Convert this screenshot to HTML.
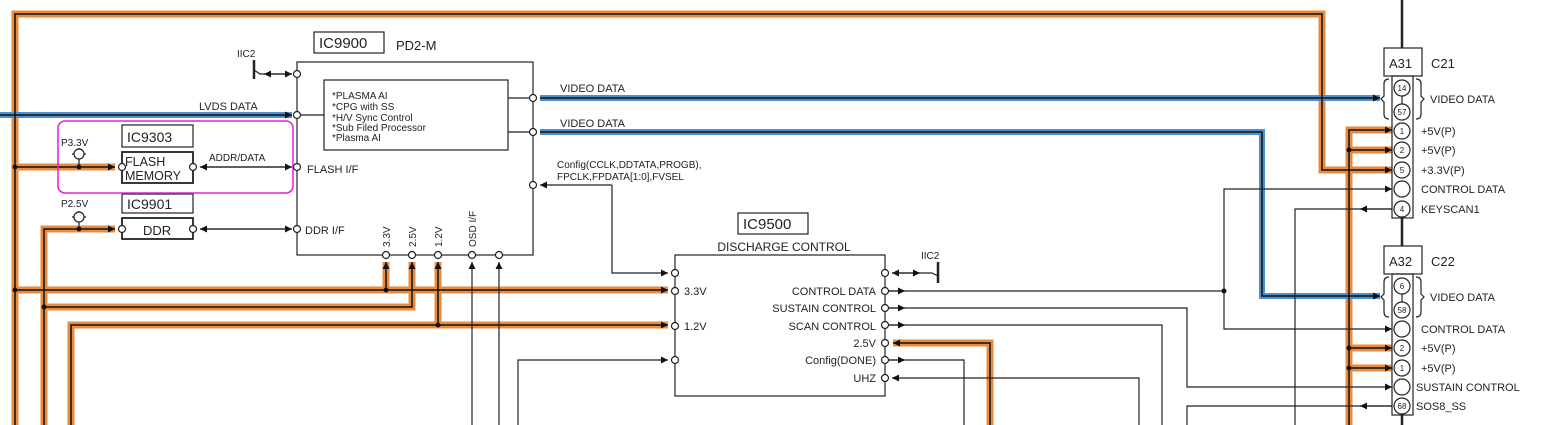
<!DOCTYPE html>
<html><head><meta charset="utf-8"><style>
html,body{margin:0;padding:0;background:#fff;}
svg{display:block;font-family:"Liberation Sans",sans-serif;}
text{fill:#222;}
</style></head><body>
<svg width="1545" height="425" viewBox="0 0 1545 425" xmlns="http://www.w3.org/2000/svg">
<defs>
<marker id="a" viewBox="0 0 10 10" refX="10" refY="5" markerWidth="9" markerHeight="7" orient="auto" markerUnits="userSpaceOnUse"><path d="M0,0 L10,5 L0,10 z" fill="#111"/></marker>
</defs>
<g fill="none" stroke-linejoin="miter" stroke-linecap="butt">
<!-- orange wires: glow -->
<g stroke="#e98b3f" stroke-width="7">
<path d="M15,425 V14 H1322 V170 H1392"/>
<path d="M15,167 H115"/>
<path d="M44,425 V229 H115"/>
<path d="M15,290 H668"/>
<path d="M386,290 V262"/>
<path d="M44,307 H412 V262"/>
<path d="M71,425 V325 H668"/>
<path d="M438,325 V262"/>
<path d="M893,343 H990 V425"/>
<path d="M1349,425 V130 H1392"/>
<path d="M1349,150 H1392"/>
<path d="M1349,348 H1392"/>
<path d="M1349,368 H1392"/>
</g>
<!-- blue glow -->
<g stroke="#4f8fcb" stroke-width="6">
<path d="M0,115 H292"/>
<path d="M540,98 H1380"/>
<path d="M540,132 H1262 V296 H1380"/>
</g>
<!-- core lines -->
<g stroke="#111" stroke-width="1.5">
<path d="M15,425 V14 H1322 V170 H1392" marker-end="url(#a)"/>
<path d="M15,167 H115" marker-end="url(#a)"/>
<path d="M44,425 V229 H115" marker-end="url(#a)"/>
<path d="M15,290 H668" marker-end="url(#a)"/>
<path d="M386,290 V262" marker-end="url(#a)"/>
<path d="M44,307 H412 V262" marker-end="url(#a)"/>
<path d="M71,425 V325 H668" marker-end="url(#a)"/>
<path d="M438,325 V262" marker-end="url(#a)"/>
<path d="M990,425 V343 H893" marker-end="url(#a)"/>
<path d="M1349,425 V130 H1392" marker-end="url(#a)"/>
<path d="M1349,150 H1392" marker-end="url(#a)"/>
<path d="M1349,348 H1392" marker-end="url(#a)"/>
<path d="M1349,368 H1392" marker-end="url(#a)"/>
<path d="M0,115 H292" marker-end="url(#a)"/>
<path d="M540,98 H1380" marker-end="url(#a)"/>
<path d="M540,132 H1262 V296 H1380" marker-end="url(#a)"/>
</g>
<g stroke="#222" stroke-width="1.2">
<!-- IC9900 box -->
<rect x="297" y="62" width="236" height="193"/>
<rect x="324" y="80" width="184" height="70"/>
<path d="M297,115 H324 M508,98 H533 M508,132 H533"/>
<!-- IIC2 top -->
<path d="M254,60 V79" stroke-width="2.5"/>
<path d="M254,70 L260,74 H292" marker-end="url(#a)"/>
<path d="M292,74 H264" marker-end="url(#a)"/>
<!-- flash / ddr -->
<rect x="122" y="125" width="71" height="22"/>
<rect x="122" y="152" width="71" height="31" stroke-width="1.8"/>
<rect x="122" y="194" width="71" height="19"/>
<rect x="122" y="218" width="71" height="21" stroke-width="1.8"/>
<path d="M200,167 H292" marker-end="url(#a)"/><path d="M292,167 H200" marker-end="url(#a)"/>
<path d="M200,229 H292" marker-end="url(#a)"/><path d="M292,229 H200" marker-end="url(#a)"/>
<path d="M79,148 V167 M72,154 H86 M79,211 V229 M72,217 H86"/>
<!-- IC9900 labels box -->
<rect x="314" y="32" width="70" height="21"/>
<!-- OSD lines -->
<path d="M472,425 V262" marker-end="url(#a)"/>
<path d="M499,425 V262" marker-end="url(#a)"/>
<!-- config -->
<path d="M612,185 V273 H668" marker-end="url(#a)"/>
<path d="M612,185 H540" marker-end="url(#a)"/>
<!-- IC9500 -->
<rect x="675" y="255" width="210" height="141"/>
<rect x="738" y="213" width="70" height="21"/>
<path d="M518,425 V360 H668" marker-end="url(#a)"/>
<path d="M938,262 V283" stroke-width="2.5"/>
<path d="M938,276 L932,273 H892" marker-end="url(#a)"/>
<path d="M892,273 H920" marker-end="url(#a)"/>
<path d="M885,291 H1224 V189 H1392" marker-end="url(#a)"/>
<path d="M885,291 H905" marker-end="url(#a)"/>
<path d="M1224,291 V329 H1392" marker-end="url(#a)"/>
<path d="M885,308 H1187 V387 H1392" marker-end="url(#a)"/>
<path d="M885,308 H905" marker-end="url(#a)"/>
<path d="M885,325 H1162 V425"/>
<path d="M885,325 H905" marker-end="url(#a)"/>
<path d="M885,360 H964 V425"/>
<path d="M885,360 H905" marker-end="url(#a)"/>
<path d="M1139,425 V378 H892" marker-end="url(#a)"/>
<path d="M1187,425 V406 H1392"/>
<path d="M1392,406 H1360" marker-end="url(#a)"/>
<path d="M1295,425 V209 H1392"/>
<path d="M1392,209 H1360" marker-end="url(#a)"/>
<!-- connectors -->
<path d="M1402,0 V48 M1402,218 V246 M1402,415 V425" stroke-width="2.5"/>
<rect x="1384" y="48" width="38" height="28"/>
<rect x="1392" y="76" width="21" height="142"/>
<rect x="1384" y="246" width="38" height="28"/>
<rect x="1392" y="274" width="21" height="141"/>
<path d="M1402,96 V104 M1402,294 V302"/>
<path d="M1389,79 Q1384,79 1384,84 V96 L1381,99 L1384,102 V114 Q1384,119 1389,119"/>
<path d="M1416,79 Q1421,79 1421,84 V96 L1424,99 L1421,102 V114 Q1421,119 1416,119"/>
<path d="M1389,277 Q1384,277 1384,282 V294 L1381,297 L1384,300 V312 Q1384,317 1389,317"/>
<path d="M1416,277 Q1421,277 1421,282 V294 L1424,297 L1421,300 V312 Q1421,317 1416,317"/>
</g>
<!-- magenta -->
<rect x="58" y="121" width="235" height="72" rx="7" stroke="#e21ee0" stroke-width="1.5"/>
<!-- pin circles -->
<g fill="#fff" stroke="#222" stroke-width="1.2">
<circle cx="297" cy="74" r="3.5"/><circle cx="297" cy="115" r="3.5"/><circle cx="297" cy="167" r="3.5"/><circle cx="297" cy="229" r="3.5"/>
<circle cx="533" cy="98" r="3.5"/><circle cx="533" cy="132" r="3.5"/><circle cx="533" cy="185" r="3.5"/>
<circle cx="386" cy="255" r="3.5"/><circle cx="412" cy="255" r="3.5"/><circle cx="438" cy="255" r="3.5"/><circle cx="472" cy="255" r="3.5"/><circle cx="499" cy="255" r="3.5"/>
<circle cx="122" cy="167" r="3.5"/><circle cx="193" cy="167" r="3.5"/><circle cx="122" cy="229" r="3.5"/><circle cx="193" cy="229" r="3.5"/>
<circle cx="79" cy="154" r="5"/><circle cx="79" cy="217" r="5"/>
<circle cx="675" cy="273" r="3.5"/><circle cx="675" cy="291" r="3.5"/><circle cx="675" cy="326" r="3.5"/><circle cx="675" cy="360" r="3.5"/>
<circle cx="885" cy="273" r="3.5"/><circle cx="885" cy="291" r="3.5"/><circle cx="885" cy="308" r="3.5"/><circle cx="885" cy="325" r="3.5"/><circle cx="885" cy="343" r="3.5"/><circle cx="885" cy="360" r="3.5"/><circle cx="885" cy="378" r="3.5"/>
<g r="8">
<circle cx="1402" cy="88" r="8"/><circle cx="1402" cy="112" r="8"/><circle cx="1402" cy="131" r="8"/><circle cx="1402" cy="150" r="8"/><circle cx="1402" cy="170" r="8"/><circle cx="1402" cy="189" r="8"/><circle cx="1402" cy="209" r="8"/>
<circle cx="1402" cy="286" r="8"/><circle cx="1402" cy="310" r="8"/><circle cx="1402" cy="329" r="8"/><circle cx="1402" cy="348" r="8"/><circle cx="1402" cy="368" r="8"/><circle cx="1402" cy="387" r="8"/><circle cx="1402" cy="406" r="8"/>
</g>
</g>
<!-- junction dots -->
<g fill="#111">
<circle cx="15" cy="167" r="2.5"/><circle cx="15" cy="290" r="2.5"/><circle cx="44" cy="307" r="2.5"/><circle cx="79" cy="167" r="2.5"/><circle cx="79" cy="229" r="2.5"/>
<circle cx="386" cy="290" r="2.5"/><circle cx="438" cy="325" r="2.5"/><circle cx="1224" cy="291" r="2.5"/>
<circle cx="1349" cy="150" r="2.5"/><circle cx="1349" cy="348" r="2.5"/><circle cx="1349" cy="368" r="2.5"/>
</g>
</g>
<!-- text -->
<g font-size="11">
<text x="319" y="48" font-size="15">IC9900</text>
<text x="396" y="50" font-size="13">PD2-M</text>
<text x="237" y="57" font-size="10">IIC2</text>
<text x="332" y="99" font-size="10">*PLASMA AI</text>
<text x="332" y="110" font-size="10">*CPG with SS</text>
<text x="332" y="121" font-size="10">*H/V Sync Control</text>
<text x="332" y="131" font-size="10">*Sub Filed Processor</text>
<text x="332" y="141" font-size="10">*Plasma AI</text>
<text x="199" y="110">LVDS DATA</text>
<text x="127" y="142" font-size="14">IC9303</text>
<text x="125" y="166" font-size="12.5">FLASH</text>
<text x="125" y="180" font-size="12.5">MEMORY</text>
<text x="61" y="146" font-size="10">P3.3V</text>
<text x="61" y="207" font-size="10">P2.5V</text>
<text x="209" y="161" font-size="10">ADDR/DATA</text>
<text x="307" y="173">FLASH I/F</text>
<text x="127" y="209" font-size="14">IC9901</text>
<text x="143" y="235" font-size="13">DDR</text>
<text x="305" y="234">DDR I/F</text>
<g font-size="10">
<text transform="translate(390,247) rotate(-90)">3.3V</text>
<text transform="translate(416,247) rotate(-90)">2.5V</text>
<text transform="translate(442,247) rotate(-90)">1.2V</text>
<text transform="translate(476,247) rotate(-90)">OSD I/F</text>
</g>
<text x="560" y="92">VIDEO DATA</text>
<text x="560" y="127">VIDEO DATA</text>
<text x="557" y="168" font-size="10">Config(CCLK,DDTATA,PROGB),</text>
<text x="557" y="180" font-size="10">FPCLK,FPDATA[1:0],FVSEL</text>
<text x="743" y="229" font-size="15">IC9500</text>
<text x="784" y="251" font-size="12" text-anchor="middle">DISCHARGE CONTROL</text>
<text x="921" y="259" font-size="10">IIC2</text>
<text x="684" y="295">3.3V</text>
<text x="684" y="330">1.2V</text>
<g text-anchor="end">
<text x="876" y="295">CONTROL DATA</text>
<text x="876" y="312">SUSTAIN CONTROL</text>
<text x="876" y="330">SCAN CONTROL</text>
<text x="876" y="347">2.5V</text>
<text x="876" y="364">Config(DONE)</text>
<text x="876" y="382">UHZ</text>
</g>
<text x="1389" y="68" font-size="13">A31</text>
<text x="1431" y="68" font-size="13">C21</text>
<text x="1389" y="266" font-size="13">A32</text>
<text x="1431" y="266" font-size="13">C22</text>
<g font-size="8" text-anchor="middle">
<text x="1402" y="91">14</text><text x="1402" y="115">57</text><text x="1402" y="134">1</text><text x="1402" y="153">2</text><text x="1402" y="173">5</text><text x="1402" y="212">4</text>
<text x="1402" y="289">6</text><text x="1402" y="313">58</text><text x="1402" y="351">2</text><text x="1402" y="371">1</text><text x="1402" y="409">68</text>
</g>
<text x="1430" y="103">VIDEO DATA</text>
<text x="1421" y="135">+5V(P)</text>
<text x="1421" y="154">+5V(P)</text>
<text x="1421" y="174">+3.3V(P)</text>
<text x="1421" y="193">CONTROL DATA</text>
<text x="1421" y="213">KEYSCAN1</text>
<text x="1430" y="301">VIDEO DATA</text>
<text x="1421" y="333">CONTROL DATA</text>
<text x="1421" y="352">+5V(P)</text>
<text x="1421" y="372">+5V(P)</text>
<text x="1416" y="391">SUSTAIN CONTROL</text>
<text x="1416" y="410">SOS8_SS</text>
</g>
</svg>
</body></html>
